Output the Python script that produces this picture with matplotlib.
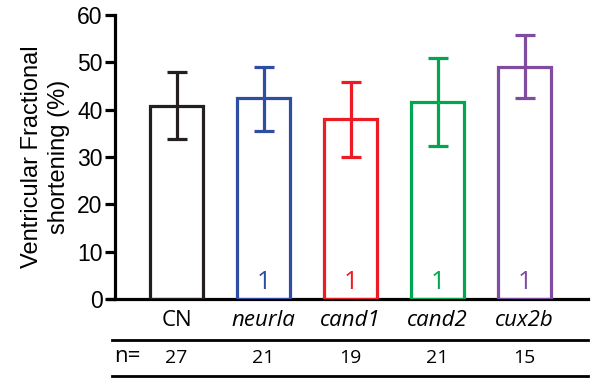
import numpy as np
import matplotlib
matplotlib.use('Agg')
from matplotlib import pyplot as plt
from matplotlib.lines import Line2D

# Data
groups = ['CN', 'neurla', 'cand1', 'cand2', 'cux2b']
means = [40.8, 42.4, 38.0, 41.7, 49.1]
err_hi = [48.0, 49.0, 45.9, 51.0, 55.8]
err_lo = [33.8, 35.5, 30.0, 32.3, 42.5]
n_vals = [27, 21, 19, 21, 15]
inner_labels = ['', '1', '1', '1', '1']
colors = ['#231f20', '#2e4ea1', '#ed1c24', '#00a651', '#7f4ca0']

W, H = 597, 379
fig = plt.figure(figsize=(W / 100, H / 100), dpi=100)

# axes box in pixel coordinates of the reference
ax_left, ax_right, ax_top, ax_bottom = 108, 588, 15, 299
ax = fig.add_axes([ax_left / W, 1 - ax_bottom / H,
                   (ax_right - ax_left) / W, (ax_bottom - ax_top) / H])

step = 87.0
x0_px = 176.5
x = np.arange(len(groups))
ax.set_xlim((ax_left - x0_px) / step, (ax_right - x0_px) / step)
ax.set_ylim(0, 60)

lw = 2.3
for i in range(len(groups)):
    c = colors[i]
    ax.bar(x[i], means[i], width=0.62, facecolor='none', edgecolor=c,
           linewidth=lw, zorder=3)
    yerr = [[means[i] - err_lo[i]], [err_hi[i] - means[i]]]
    ax.errorbar(x[i], means[i], yerr=yerr, fmt='none', ecolor=c,
                elinewidth=lw, capsize=7, capthick=lw, zorder=4)
    if inner_labels[i]:
        ax.text(x[i], 2.2, inner_labels[i], color=c, ha='center', va='baseline',
                fontsize=18, family='Open Sans')

ax.spines['top'].set_visible(False)
ax.spines['right'].set_visible(False)
ax.spines['left'].set_position(('data', (115 - x0_px) / step))
ax.spines['left'].set_linewidth(lw)
ax.spines['left'].set_bounds(0, 60)
ax.spines['bottom'].set_linewidth(lw)
ax.set_xticks([])
ax.set_yticks(np.arange(0, 61, 10))
ax.tick_params(axis='y', direction='out', length=7, width=lw, pad=2,
               labelsize=16.5)
for lab in ax.get_yticklabels():
    lab.set_family('Liberation Sans')

ax.set_ylabel('Ventricular Fractional\nshortening (%)', fontsize=17,
              family='Liberation Sans', labelpad=5, linespacing=1.3)

# category labels and n row below the axis
for i in range(len(groups)):
    style = 'normal' if groups[i] == 'CN' else 'italic'
    xf = (x0_px + i * step) / W
    fig.text(xf, 1 - 321 / H, groups[i], ha='center', va='center',
             fontsize=16, style=style, family='Open Sans')
    fig.text(xf, 1 - 358 / H, str(n_vals[i]), ha='center', va='center',
             fontsize=14, family='Open Sans')
fig.text(114 / W, 1 - 356 / H, 'n=', ha='left', va='center',
         fontsize=16, family='Open Sans')

for yp in [340, 376]:
    fig.add_artist(Line2D([112 / W, 588 / W], [1 - yp / H, 1 - yp / H],
                          color='black', linewidth=2.0))

fig.savefig('out.png', dpi=100)
